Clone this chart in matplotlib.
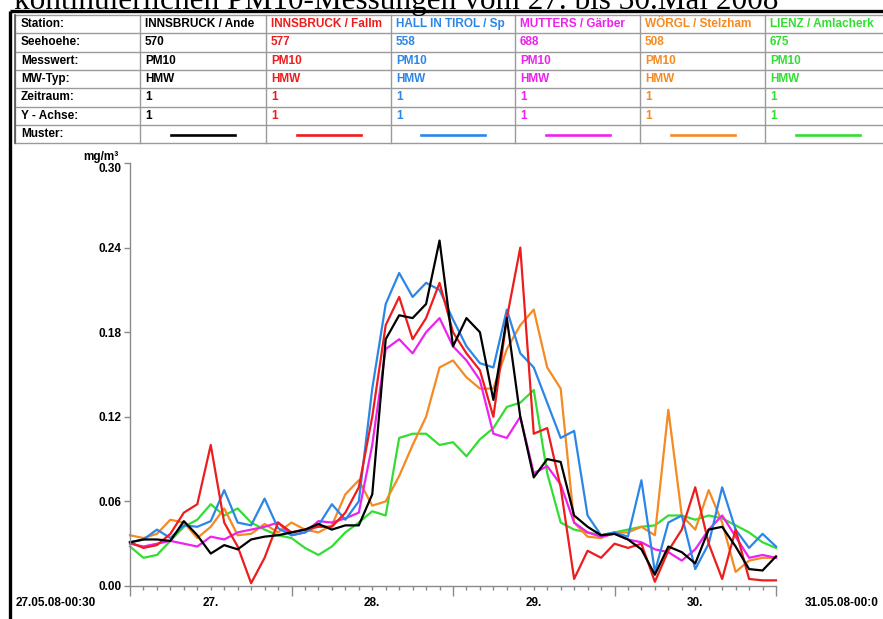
import matplotlib
matplotlib.use("Agg")
import matplotlib.pyplot as plt
import numpy as np

plt.rcParams['font.family'] = ['Liberation Sans', 'DejaVu Sans']

hours = np.arange(0, 97, 2)

ibk_andechs = [0.031, 0.033, 0.033, 0.032, 0.046, 0.036, 0.023, 0.029, 0.026, 0.033,
               0.035, 0.036, 0.038, 0.040, 0.044, 0.040, 0.043, 0.043, 0.065, 0.175,
               0.192, 0.190, 0.200, 0.245, 0.170, 0.190, 0.180, 0.132, 0.190, 0.120,
               0.077, 0.090, 0.088, 0.050, 0.042, 0.036, 0.037, 0.033, 0.026, 0.008,
               0.028, 0.024, 0.016, 0.040, 0.042, 0.028, 0.012, 0.011, 0.021]
ibk_fallm = [0.031, 0.027, 0.029, 0.037, 0.052, 0.058, 0.100, 0.045, 0.028, 0.002,
             0.020, 0.045, 0.038, 0.040, 0.042, 0.042, 0.052, 0.070, 0.120, 0.185,
             0.205, 0.175, 0.190, 0.215, 0.180, 0.165, 0.153, 0.120, 0.190, 0.240,
             0.108, 0.112, 0.070, 0.005, 0.025, 0.020, 0.030, 0.027, 0.030, 0.003,
             0.025, 0.040, 0.070, 0.030, 0.005, 0.040, 0.005, 0.004, 0.004]
hall = [0.031, 0.033, 0.040, 0.034, 0.043, 0.042, 0.046, 0.068, 0.045, 0.043,
        0.062, 0.041, 0.036, 0.038, 0.043, 0.058, 0.047, 0.060, 0.140, 0.200,
        0.222, 0.205, 0.215, 0.210, 0.189, 0.170, 0.158, 0.155, 0.196, 0.165,
        0.155, 0.130, 0.105, 0.110, 0.050, 0.036, 0.038, 0.035, 0.075, 0.010,
        0.045, 0.050, 0.012, 0.030, 0.070, 0.040, 0.027, 0.037, 0.028]
mutters = [0.030, 0.028, 0.030, 0.032, 0.030, 0.028, 0.035, 0.033, 0.038, 0.040,
           0.042, 0.045, 0.036, 0.038, 0.046, 0.045, 0.048, 0.052, 0.100, 0.168,
           0.175, 0.165, 0.180, 0.190, 0.170, 0.160, 0.146, 0.108, 0.105, 0.120,
           0.080, 0.085, 0.072, 0.045, 0.038, 0.035, 0.037, 0.033, 0.031, 0.026,
           0.024, 0.018, 0.026, 0.040, 0.050, 0.035, 0.020, 0.022, 0.020]
woergl = [0.036, 0.034, 0.037, 0.047, 0.045, 0.034, 0.042, 0.055, 0.036, 0.037,
          0.044, 0.038, 0.045, 0.040, 0.038, 0.043, 0.065, 0.075, 0.057, 0.060,
          0.078, 0.100, 0.120, 0.155, 0.160, 0.148, 0.140, 0.140, 0.168, 0.185,
          0.196, 0.155, 0.140, 0.045, 0.035, 0.034, 0.038, 0.038, 0.042, 0.036,
          0.125, 0.050, 0.040, 0.068, 0.045, 0.010, 0.018, 0.020, 0.020]
lienz = [0.028, 0.020, 0.022, 0.032, 0.042, 0.047, 0.058, 0.050, 0.055, 0.045,
         0.040, 0.036, 0.034, 0.027, 0.022, 0.028, 0.038, 0.045, 0.053, 0.050,
         0.105, 0.108, 0.108, 0.100, 0.102, 0.092, 0.104, 0.112, 0.127, 0.130,
         0.139, 0.080, 0.045, 0.040, 0.038, 0.036, 0.038, 0.040, 0.042, 0.043,
         0.050, 0.050, 0.047, 0.050, 0.048, 0.043, 0.038, 0.031, 0.027]

series = [ibk_andechs, ibk_fallm, hall, mutters, woergl, lienz]
stations = ["INNSBRUCK / Ande", "INNSBRUCK / Fallm", "HALL IN TIROL / Sp",
            "MUTTERS / Gärber", "WÖRGL / Stelzham", "LIENZ / Amlacherk"]
seehoehe = ["570", "577", "558", "688", "508", "675"]
messwert = ["PM10"] * 6
mw_typ = ["HMW"] * 6
zeitraum = ["1"] * 6
y_achse = ["1"] * 6
colors = ["#000000", "#ee1c1c", "#2b86e8", "#ee22ee", "#f58a22", "#33dd33"]

row_labels = ["Station:", "Seehoehe:", "Messwert:", "MW-Typ:", "Zeitraum:", "Y - Achse:", "Muster:"]
day_labels = ["27.", "28.", "29.", "30."]
yticks = [0.00, 0.06, 0.12, 0.18, 0.24, 0.30]
title = "kontinuierlichen PM10-Messungen vom 27. bis 30.Mai 2008"

W, H = 883, 619
fig = plt.figure(figsize=(W / 100, H / 100), dpi=100)
fig.patch.set_facecolor("white")

# overlay in pixel coordinates for frame, title and table
frame = fig.add_axes([0, 0, 1, 1])
frame.set_xlim(0, W)
frame.set_ylim(H, 0)
frame.axis("off")

frame.text(14, 9.5, title, family="Liberation Serif", fontsize=22.5, va="baseline", ha="left")
frame.plot([9.5, 9.5], [10.5, H], color="black", lw=2.4, solid_capstyle="butt")
frame.plot([9.5, W], [10.5, 10.5], color="black", lw=2.4, solid_capstyle="butt")

# table
col_edges = [15, 140, 266, 391, 515, 640, 765, 900]
row_top, row_h = 15, 18.3
n_rows = len(row_labels)
grid_c = "#9a9a9a"
for k in range(n_rows + 1):
    yy = row_top + k * row_h
    frame.plot([15, W], [yy, yy], color=grid_c, lw=1)
for xx in col_edges[:-1]:
    frame.plot([xx, xx], [row_top, row_top + n_rows * row_h], color=grid_c, lw=1)
frame.plot([15, 15], [row_top, row_top + n_rows * row_h], color="#555555", lw=1.2)

rows = [stations, seehoehe, messwert, mw_typ, zeitraum, y_achse]
for r, lab in enumerate(row_labels):
    yc = row_top + (r + 0.5) * row_h
    frame.text(21, yc, lab, fontsize=8.5, fontweight="bold", va="center", ha="left")
    for c in range(6):
        x0, x1 = col_edges[c + 1], col_edges[c + 2]
        if r < len(rows):
            frame.text(x0 + 5, yc, rows[r][c], fontsize=8.5, fontweight="bold",
                       color=colors[c], va="center", ha="left")
        else:
            xm = (x0 + min(x1, 890)) / 2 if c < 5 else x0 + 63
            frame.plot([xm - 32, xm + 32], [yc + 1, yc + 1], color=colors[c], lw=1.9)

frame.text(119, 157, "mg/m³", fontsize=8.5, fontweight="bold", ha="right", va="center")
frame.text(16, 603, "27.05.08-00:30", fontsize=8.5, fontweight="bold", ha="left", va="center")
frame.text(805, 603, "31.05.08-00:0", fontsize=8.5, fontweight="bold", ha="left", va="center")

# chart
ax = fig.add_axes([130 / W, 1 - 586 / H, (776 - 130) / W, (586 - 163) / H])
ax.patch.set_alpha(0)
ax.set_xlim(0, 96)
ax.set_ylim(0, 0.30)
for side in ("top", "right"):
    ax.spines[side].set_visible(False)
for side in ("left", "bottom"):
    ax.spines[side].set_color("#8a8a8a")
    ax.spines[side].set_linewidth(1)

for vals, col in reversed(list(zip(series, colors))):
    ax.plot(hours, vals, color=col, lw=1.6, clip_on=False)

ax.set_yticks(yticks, labels=[f"{v:.2f}" for v in yticks])
for lbl in ax.get_yticklabels():
    lbl.set_fontweight("bold")
    lbl.set_fontsize(8.5)
ax.get_yticklabels()[-1].set_va("top")
ax.tick_params(axis="y", length=4, width=1, color="#8a8a8a", pad=2)

ax.set_xticks(np.arange(0, 97, 24), labels=[])
ax.set_xticks(np.arange(0, 97, 2), minor=True)
ax.tick_params(axis="x", which="major", length=7, width=1, color="#8a8a8a")
ax.tick_params(axis="x", which="minor", length=3, width=1, color="#8a8a8a")

trans = ax.get_xaxis_transform()
for k, lab in enumerate(day_labels):
    ax.text(12 + 24 * k, -0.04, lab, transform=trans, fontsize=8.5, fontweight="bold",
            ha="center", va="center")

fig.savefig("out.png", dpi=100)
